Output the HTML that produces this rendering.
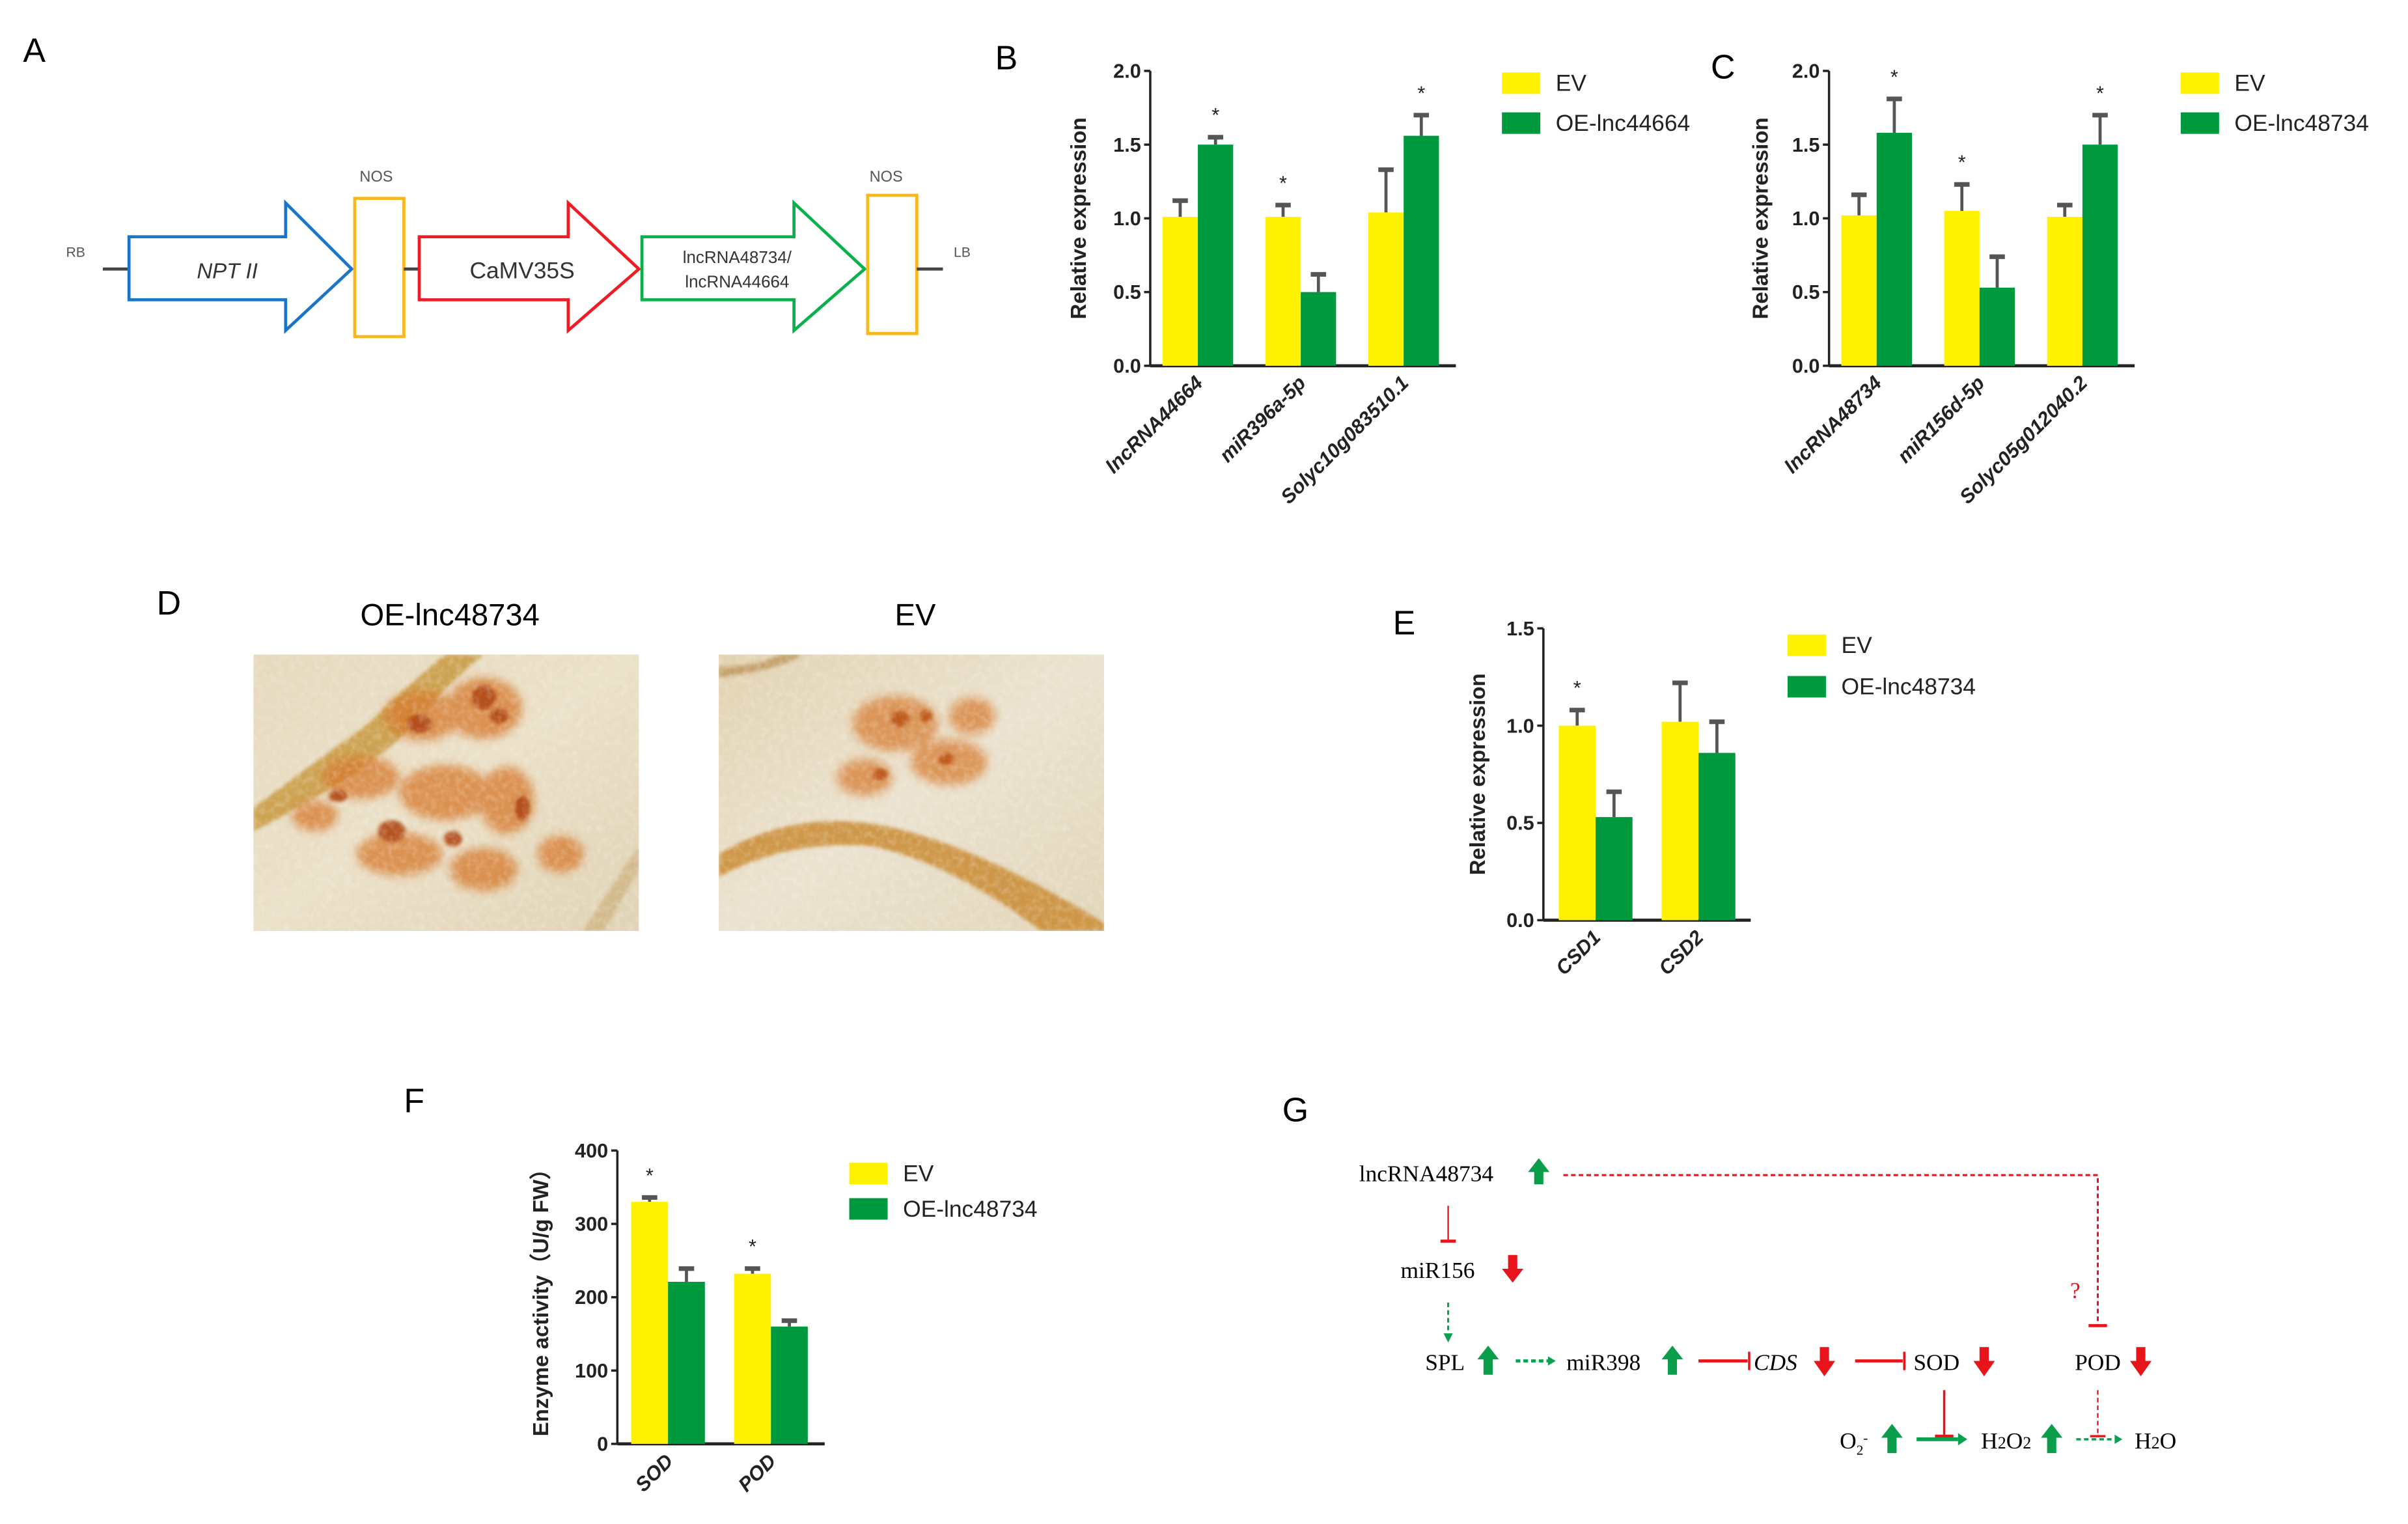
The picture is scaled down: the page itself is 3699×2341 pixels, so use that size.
<!DOCTYPE html>
<html><head><meta charset="utf-8">
<style>
html,body{margin:0;padding:0;background:#fff;}
svg{display:block;}
text{font-family:"Liberation Sans",Arial,sans-serif;}
.serif{font-family:"Liberation Serif","Times New Roman",serif;}
</style></head>
<body>
<svg id="fig" xmlns="http://www.w3.org/2000/svg" width="3699" height="2341" viewBox="0 0 1568 992">
<defs>
<filter id="blur2"><feGaussianBlur stdDeviation="3"/></filter>
<filter id="blur1"><feGaussianBlur stdDeviation="1.2"/></filter>
<filter id="grain" x="0" y="0" width="100%" height="100%">
<feTurbulence type="fractalNoise" baseFrequency="0.25" numOctaves="2" seed="3" result="n"/>
<feColorMatrix in="n" type="matrix" values="0 0 0 0 1  0 0 0 0 1  0 0 0 0 1  0 0 0 0.9 -0.35"/>
</filter>
<linearGradient id="bg1" x1="0" y1="0" x2="1" y2="1"><stop offset="0" stop-color="#e6d9bd"/><stop offset="0.5" stop-color="#ebe0c8"/><stop offset="1" stop-color="#e0d2b4"/></linearGradient>
<linearGradient id="bg2" x1="0" y1="0" x2="1" y2="1"><stop offset="0" stop-color="#e2d2b0"/><stop offset="0.5" stop-color="#ebe2cf"/><stop offset="1" stop-color="#e2d5b8"/></linearGradient>
</defs>

<!-- Panel A -->
<g>
<text x="15" y="40" font-size="22">A</text>
<text x="43" y="167" font-size="9" fill="#555">RB</text>
<line x1="67" y1="175" x2="84" y2="175" stroke="#444" stroke-width="2"/>
<polygon points="84,154 186,154 186,132 229,175 186,215 186,195 84,195" fill="#fff" stroke="#1a75c9" stroke-width="2"/>
<text x="148" y="181" font-size="14" font-style="italic" text-anchor="middle" fill="#333">NPT II</text>
<text x="245" y="118" font-size="10" text-anchor="middle" fill="#555">NOS</text>
<rect x="231" y="129" width="32" height="90" fill="#fff" stroke="#f6b81c" stroke-width="2"/>
<line x1="263" y1="175" x2="273" y2="175" stroke="#444" stroke-width="2"/>
<polygon points="273,154 370,154 370,132 416,175 370,215 370,195 273,195" fill="#fff" stroke="#ee1c24" stroke-width="2"/>
<text x="340" y="181" font-size="15" text-anchor="middle" fill="#333">CaMV35S</text>
<polygon points="418,154 517,154 517,132 563,175 517,215 517,195 418,195" fill="#fff" stroke="#0ab04b" stroke-width="2"/>
<text x="480" y="171" font-size="11" text-anchor="middle" fill="#333">lncRNA48734/</text>
<text x="480" y="187" font-size="11" text-anchor="middle" fill="#333">lncRNA44664</text>
<text x="577" y="118" font-size="10" text-anchor="middle" fill="#555">NOS</text>
<rect x="565" y="127" width="32" height="90" fill="#fff" stroke="#f6b81c" stroke-width="2"/>
<line x1="597" y1="175" x2="614" y2="175" stroke="#444" stroke-width="2"/>
<text x="621" y="167" font-size="9" fill="#555">LB</text>
</g>

<text x="648" y="45" font-size="22">B</text>
<text x="1114" y="51" font-size="22">C</text>
<text x="102" y="400" font-size="22">D</text>
<text x="907" y="413" font-size="22">E</text>
<text x="263" y="724" font-size="22">F</text>
<text x="835" y="730" font-size="22">G</text>

<!-- Panel D photos -->
<g>
<text x="293" y="407" font-size="20" text-anchor="middle">OE-lnc48734</text>
<text x="596" y="407" font-size="20" text-anchor="middle">EV</text>
<svg x="165" y="426" width="251" height="180">
<rect width="251" height="180" fill="url(#bg1)"/>
<path d="M0,100 Q40,70 75,45 Q100,20 125,0 L150,0 Q120,25 95,55 Q60,85 0,115Z" fill="#c4902e" opacity="0.75" filter="url(#blur1)"/>
<g filter="url(#blur2)" fill="#d6782a" opacity="0.75">
<ellipse cx="110" cy="40" rx="25" ry="16"/><ellipse cx="150" cy="35" rx="25" ry="20"/>
<ellipse cx="70" cy="80" rx="25" ry="14"/><ellipse cx="125" cy="90" rx="30" ry="18"/>
<ellipse cx="165" cy="95" rx="18" ry="22"/><ellipse cx="95" cy="130" rx="28" ry="14"/>
<ellipse cx="150" cy="140" rx="22" ry="14"/><ellipse cx="40" cy="105" rx="15" ry="10"/>
<ellipse cx="200" cy="130" rx="15" ry="12"/>
</g>
<g filter="url(#blur1)" fill="#b04a12" opacity="0.9"><ellipse cx="108" cy="45" rx="8" ry="6"/><ellipse cx="150" cy="28" rx="8" ry="8"/><ellipse cx="55" cy="92" rx="6" ry="4"/><ellipse cx="90" cy="115" rx="9" ry="7"/><ellipse cx="175" cy="100" rx="5" ry="8"/><ellipse cx="130" cy="120" rx="6" ry="5"/><ellipse cx="160" cy="40" rx="6" ry="5"/></g>
<path d="M215,180 Q240,140 251,125 L251,140 Q240,160 228,180Z" fill="#c8a870" opacity="0.6" filter="url(#blur1)"/>
<rect width="251" height="180" filter="url(#grain)" opacity="0.5"/>
</svg>
<svg x="468" y="426" width="251" height="180">
<rect width="251" height="180" fill="url(#bg2)"/>
<path d="M0,130 Q50,100 110,112 Q170,125 251,175 L251,180 L210,180 Q150,135 100,125 Q45,120 0,145Z" fill="#c8862a" opacity="0.8" filter="url(#blur1)"/>
<path d="M0,15 Q40,10 55,0 L40,0 Q25,8 0,8Z" fill="#b0803a" opacity="0.6" filter="url(#blur1)"/>
<g filter="url(#blur2)" fill="#d6782a" opacity="0.7">
<ellipse cx="115" cy="45" rx="28" ry="18"/><ellipse cx="150" cy="70" rx="25" ry="15"/>
<ellipse cx="95" cy="80" rx="18" ry="12"/><ellipse cx="165" cy="40" rx="15" ry="12"/>
</g>
<g filter="url(#blur1)" fill="#bb5518" opacity="0.9"><ellipse cx="118" cy="42" rx="6" ry="5"/><ellipse cx="148" cy="68" rx="5" ry="4"/><ellipse cx="105" cy="78" rx="5" ry="4"/><ellipse cx="135" cy="40" rx="4" ry="4"/></g>
<rect width="251" height="180" filter="url(#grain)" opacity="0.5"/>
</svg>
</g>

<!-- Panel G diagram -->
<g class="serif">
<text x="885" y="769" font-size="15" class="serif">lncRNA48734</text>
<text x="912" y="832" font-size="15" class="serif">miR156</text>
<text x="928" y="892" font-size="15" class="serif">SPL</text>
<text x="1020" y="892" font-size="15" class="serif">miR398</text>
<text x="1142" y="892" font-size="15" font-style="italic" class="serif">CDS</text>
<text x="1246" y="892" font-size="15" class="serif">SOD</text>
<text x="1351" y="892" font-size="15" class="serif">POD</text>
<text x="1198" y="943" font-size="15" class="serif">O<tspan font-size="9" dy="4">2</tspan><tspan font-size="9" dy="-8">-</tspan></text>
<text x="1290" y="943" font-size="15" class="serif">H<tspan font-size="11">2</tspan>O<tspan font-size="11">2</tspan></text>
<text x="1390" y="943" font-size="15" class="serif">H<tspan font-size="11">2</tspan>O</text>
<text x="1348" y="845" font-size="15" fill="#e8141c" class="serif">?</text>
<g fill="#0a9e4a">
<polygon points="1002,754 1009,763 1005,763 1005,771 999,771 999,763 995,763"/>
<polygon points="969,876 976,885 972,885 972,895 966,895 966,885 962,885"/>
<polygon points="1089,876 1096,885 1092,885 1092,895 1086,895 1086,885 1082,885"/>
<polygon points="1232,927 1239,936 1235,936 1235,946 1229,946 1229,936 1225,936"/>
<polygon points="1336,927 1343,936 1339,936 1339,946 1333,946 1333,936 1329,936"/>
</g>
<g fill="#e8141c">
<polygon points="982,817 988,817 988,826 992,826 985,835 978,826 982,826"/>
<polygon points="1185,877 1191,877 1191,886 1195,886 1188,896 1181,886 1185,886"/>
<polygon points="1289,877 1295,877 1295,886 1299,886 1292,896 1285,886 1289,886"/>
<polygon points="1391,877 1397,877 1397,886 1401,886 1394,896 1387,886 1391,886"/>
</g>
<g stroke="#e8141c" fill="none">
<polyline points="1018,765 1366,765 1366,863" stroke-dasharray="3,2" stroke-width="1.3"/>
<line x1="1360" y1="863" x2="1372" y2="863" stroke-width="2"/>
<line x1="943" y1="785" x2="943" y2="807" stroke-width="1"/>
<line x1="938" y1="808" x2="948" y2="808" stroke-width="2"/>
<line x1="1106" y1="886" x2="1138" y2="886" stroke-width="2"/>
<line x1="1139" y1="880" x2="1139" y2="892" stroke-width="1.5"/>
<line x1="1208" y1="886" x2="1239" y2="886" stroke-width="2"/>
<line x1="1240" y1="880" x2="1240" y2="892" stroke-width="1.5"/>
<line x1="1266" y1="905" x2="1266" y2="934" stroke-width="1.5"/>
<line x1="1260" y1="935" x2="1272" y2="935" stroke-width="2"/>
<line x1="1366" y1="905" x2="1366" y2="934" stroke-width="1" stroke-dasharray="3,2"/>
<line x1="1361" y1="935" x2="1371" y2="935" stroke-width="1.5"/>
</g>
<g stroke="#0aa050" fill="#0aa050">
<line x1="943" y1="848" x2="943" y2="868" stroke-dasharray="3,2" stroke-width="1.3"/>
<polygon points="940,868 946,868 943,874" stroke="none"/>
<line x1="987" y1="886" x2="1008" y2="886" stroke-dasharray="3,2" stroke-width="2"/>
<polygon points="1008,883 1008,889 1013,886" stroke="none"/>
<line x1="1248" y1="937" x2="1275" y2="937" stroke-width="2.5"/>
<polygon points="1275,933 1275,941 1281,937" stroke="none"/>
<line x1="1352" y1="937" x2="1377" y2="937" stroke-dasharray="3,2" stroke-width="1.5"/>
<polygon points="1377,934 1377,940 1382,937" stroke="none"/>
</g>
</g>

<g id="charts"></g>
</svg>
<script>
// Panel B data
const bCats = ["lncRNA44664", "miR396a-5p", "Solyc10g083510.1"];
const bEV = [1.01, 1.01, 1.04];
const bEVerr = [0.11, 0.08, 0.29];
const bOE = [1.50, 0.50, 1.56];
const bOEerr = [0.05, 0.12, 0.14];
const bSig = [true, true, true];
const bTicks = [0, 0.5, 1.0, 1.5, 2.0];
// Panel C data
const cCats = ["lncRNA48734", "miR156d-5p", "Solyc05g012040.2"];
const cEV = [1.02, 1.05, 1.01];
const cEVerr = [0.14, 0.18, 0.08];
const cOE = [1.58, 0.53, 1.50];
const cOEerr = [0.23, 0.21, 0.20];
const cSig = [true, true, true];
const cTicks = [0, 0.5, 1.0, 1.5, 2.0];
// Panel E data
const eCats = ["CSD1", "CSD2"];
const eEV = [1.00, 1.02];
const eEVerr = [0.08, 0.20];
const eOE = [0.53, 0.86];
const eOEerr = [0.13, 0.16];
const eSig = [true, false];
const eTicks = [0, 0.5, 1.0, 1.5];
// Panel F data
const fCats = ["SOD", "POD"];
const fEV = [330, 232];
const fEVerr = [6, 7];
const fOE = [221, 160];
const fOEerr = [18, 8];
const fSig = [true, true];
const fTicks = [0, 100, 200, 300, 400];

const NS = "http://www.w3.org/2000/svg";
const root = document.getElementById('charts');
function mk(tag, attrs, parent) {
  const el = document.createElementNS(NS, tag);
  for (const k in attrs) el.setAttribute(k, attrs[k]);
  (parent || root).appendChild(el);
  return el;
}

function chart(cfg) {
  const g = mk('g', {});
  
  
  const yScale = v => cfg.y0 - (v - cfg.ymin) / (cfg.ymax - cfg.ymin) * (cfg.y0 - cfg.y1);
  const fmt = cfg.fmt;
  const ya = mk('line', {x1: cfg.ax, y1: cfg.y1, x2: cfg.ax, y2: cfg.y0, stroke: '#222', 'stroke-width': 1.5}, g);
  
  
  const xa = mk('line', {x1: cfg.ax, y1: cfg.y0, x2: cfg.axEnd, y2: cfg.y0, stroke: '#222', 'stroke-width': 2}, g);
  
  
  cfg.ticks.forEach(t => {
    const y = yScale(t);
    const tk = mk('line', {x1: cfg.ax - 4, y1: y, x2: cfg.ax, y2: y, stroke: '#222', 'stroke-width': 1.5}, g);
    
    
    const tl = mk('text', {x: cfg.ax - 6, y: y + 4.5, 'font-size': 13, 'font-weight': 'bold', 'text-anchor': 'end', fill: '#222'}, g);
    tl.textContent = fmt(t);
    
    
  });
  const yt = mk('text', {x: 0, y: 0, 'font-size': 14, 'font-weight': 'bold', 'text-anchor': 'middle', fill: '#222', transform: `translate(${cfg.titleX},${(cfg.y0 + cfg.y1) / 2}) rotate(-90)`}, g);
  yt.textContent = cfg.ytitle;
  
  
  cfg.cats.forEach((c, i) => {
    const gx = cfg.gx0 + i * cfg.step;
    const series = [[cfg.ev, cfg.everr, '#fff200', 'bar-ev'], [cfg.oe, cfg.oeerr, '#009a3e', 'bar-oe']];
    series.forEach((s, j) => {
      const x = gx + j * cfg.bw;
      const v = s[0][i], e = s[1][i];
      const yv = yScale(v), ye = yScale(v + e);
      const eb = mk('line', {x1: x + cfg.bw / 2, y1: yv, x2: x + cfg.bw / 2, y2: ye, stroke: '#555', 'stroke-width': 2}, g);
      
      
      const ec = mk('line', {x1: x + cfg.bw / 2 - 5, y1: ye, x2: x + cfg.bw / 2 + 5, y2: ye, stroke: '#555', 'stroke-width': 3}, g);
      
      
      const r = mk('rect', {x: x, y: yv, width: cfg.bw, height: cfg.y0 - yv, fill: s[2]}, g);
      
      
    });
    if (cfg.sig[i]) {
      const top = Math.max(cfg.ev[i] + cfg.everr[i], cfg.oe[i] + cfg.oeerr[i]);
      const sx = (cfg.ev[i] + cfg.everr[i] >= cfg.oe[i] + cfg.oeerr[i]) ? gx + cfg.bw / 2 : gx + cfg.bw * 1.5;
      const st = mk('text', {x: sx, y: yScale(top) - cfg.starGap, 'font-size': 13, 'text-anchor': 'middle', fill: '#222'}, g);
      st.textContent = '*';
      
      
    }
    const lx = gx + cfg.bw + 4, ly = cfg.y0 + 12;
    const xl = mk('text', {x: 0, y: 0, 'font-size': 13, 'font-weight': 'bold', 'font-style': 'italic', 'text-anchor': 'end', fill: '#222', transform: `translate(${lx},${ly}) rotate(-45)`}, g);
    xl.textContent = c;
    
    
  });
  const l1 = mk('rect', {x: cfg.lx, y: cfg.ly, width: 25, height: 14, fill: '#fff200'}, g);
  
  
  const t1 = mk('text', {x: cfg.lx + 35, y: cfg.ly + 12, 'font-size': 15, fill: '#222'}, g);
  t1.textContent = 'EV';
  
  
  const l2 = mk('rect', {x: cfg.lx, y: cfg.ly + cfg.lgap, width: 25, height: 14, fill: '#009a3e'}, g);
  
  
  const t2 = mk('text', {x: cfg.lx + 35, y: cfg.ly + cfg.lgap + 12, 'font-size': 15, fill: '#222'}, g);
  t2.textContent = cfg.oeName;
  
  
}

const f1 = v => v.toFixed(1);
const f0 = v => String(v);
chart({name: 'chart-b', cats: bCats, ev: bEV, everr: bEVerr, oe: bOE, oeerr: bOEerr, sig: bSig, ticks: bTicks, ymin: 0, ymax: 2, y0: 238, y1: 46, ax: 749, axEnd: 948, gx0: 757, step: 67, bw: 23, fmt: f1, ytitle: 'Relative expression', titleX: 707, lx: 978, ly: 47, lgap: 26, oeName: 'OE-lnc44664', starGap: 10});
chart({name: 'chart-c', cats: cCats, ev: cEV, everr: cEVerr, oe: cOE, oeerr: cOEerr, sig: cSig, ticks: cTicks, ymin: 0, ymax: 2, y0: 238, y1: 46, ax: 1191, axEnd: 1390, gx0: 1199, step: 67, bw: 23, fmt: f1, ytitle: 'Relative expression', titleX: 1151, lx: 1420, ly: 47, lgap: 26, oeName: 'OE-lnc48734', starGap: 10});
chart({name: 'chart-e', cats: eCats, ev: eEV, everr: eEVerr, oe: eOE, oeerr: eOEerr, sig: eSig, ticks: eTicks, ymin: 0, ymax: 1.5, y0: 599, y1: 409, ax: 1005, axEnd: 1140, gx0: 1015, step: 67, bw: 24, fmt: f1, ytitle: 'Relative expression', titleX: 967, lx: 1164, ly: 413, lgap: 27, oeName: 'OE-lnc48734', starGap: 10});
chart({name: 'chart-f', cats: fCats, ev: fEV, everr: fEVerr, oe: fOE, oeerr: fOEerr, sig: fSig, ticks: fTicks, ymin: 0, ymax: 400, y0: 940, y1: 749, ax: 402, axEnd: 537, gx0: 411, step: 67, bw: 24, fmt: f0, ytitle: 'Enzyme activity（U/g FW）', titleX: 357, lx: 553, ly: 757, lgap: 23, oeName: 'OE-lnc48734', starGap: 10});
</script>
</body></html>
